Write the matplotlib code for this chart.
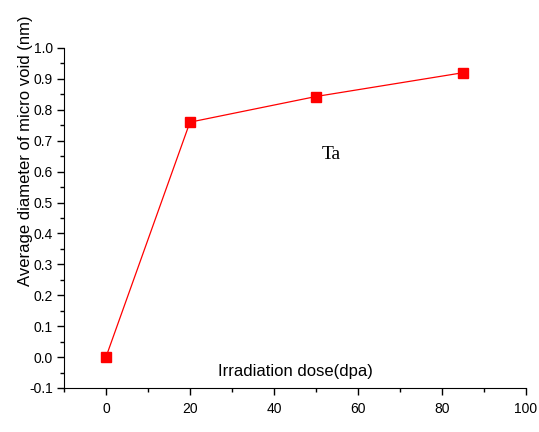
import numpy as np
import matplotlib.pyplot as plt
from matplotlib.ticker import MultipleLocator

# data
dose = [0, 20, 50, 85]
diameter = [0.0, 0.76, 0.843, 0.92]

plt.rcParams['font.family'] = ['Liberation Sans', 'DejaVu Sans']

fig = plt.figure(figsize=(5.39, 4.32), dpi=100)
ax = fig.add_axes([0.1187, 0.1019, 0.857, 0.787])

ax.plot(dose, diameter, color='red', lw=0.9, marker='s', ms=7,
        markerfacecolor='red', markeredgecolor='red')

ax.set_xlim(-10, 100)
ax.set_ylim(-0.1, 1.0)

# only left and bottom axis lines
ax.spines['top'].set_visible(False)
ax.spines['right'].set_visible(False)

ax.xaxis.set_major_locator(MultipleLocator(20))
ax.xaxis.set_minor_locator(MultipleLocator(10))
ax.yaxis.set_major_locator(MultipleLocator(0.1))
ax.yaxis.set_minor_locator(MultipleLocator(0.05))
ax.yaxis.set_major_formatter(plt.FormatStrFormatter('%.1f'))
ax.tick_params(which='major', direction='out', length=5, width=1, labelsize=10)
ax.tick_params(axis='x', which='major', pad=5)
ax.tick_params(axis='y', which='major', pad=3)
ax.tick_params(which='minor', direction='out', length=3, width=1)

ax.set_xlabel('Irradiation dose(dpa)', fontsize=12)
ax.xaxis.set_label_coords(0.5, 0.07)
ax.set_ylabel('Average diameter of micro void (nm)', fontsize=12)
ax.yaxis.set_label_coords(-0.067, 0.697)

ax.text(53.7, 0.657, 'Ta', family='Liberation Serif', fontsize=14,
        ha='center', va='center')

fig.savefig('out.png', dpi=100)
